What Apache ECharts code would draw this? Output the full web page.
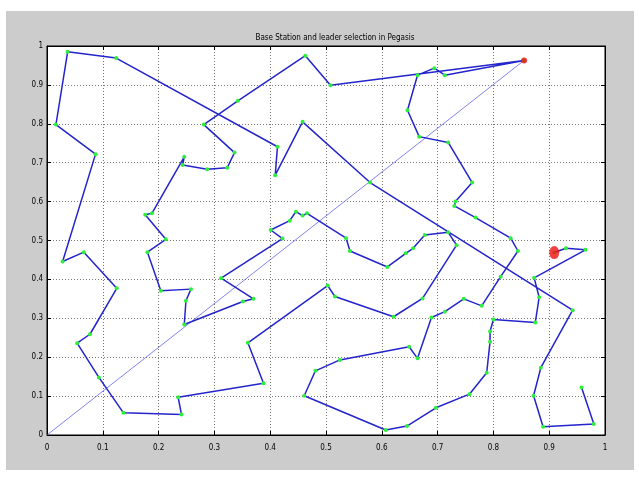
<!DOCTYPE html>
<html>
<head>
<meta charset="utf-8">
<script src="https://cdn.jsdelivr.net/npm/echarts@6/dist/echarts.min.js"></script>
<style>
html,body{margin:0;padding:0;background:#fff;}
#c{width:639px;height:477px;}
</style>
</head>
<body>
<div id="c"></div>
<script>
// Chain of sensor nodes (PEGASIS chain), in drawing order
var chainX = [0.958,0.980,0.889,0.872,0.885,0.942,0.579,0.458,0.409,0.413,
              0.124,0.037,0.016,0.087,0.028,0.066,0.125,0.077,0.054,0.093,
              0.137,0.241,0.235,0.388,0.360,0.503,0.516,0.621,0.673,0.734,
              0.719,0.677,0.656,0.643,0.610,0.543,0.536,0.466,0.458,0.446,
              0.435,0.401,0.422,0.312,0.370,0.351,0.246,0.249,0.258,0.204,
              0.180,0.213,0.176,0.188,0.246,0.243,0.287,0.323,0.336,0.281,
              0.342,0.463,0.508,0.855,0.713,0.694,0.664,0.646,0.667,0.719,
              0.762,0.732,0.730,0.768,0.831,0.844,0.813,0.779,0.747,0.713,
              0.689,0.664,0.649,0.525,0.481,0.461,0.607,0.645,0.697,0.757,
              0.788,0.794,0.794,0.800,0.875,0.882,0.873,0.965,0.930,0.909];
var chainY = [0.122,0.028,0.021,0.101,0.173,0.321,0.649,0.805,0.668,0.741,
              0.969,0.985,0.798,0.722,0.446,0.470,0.377,0.259,0.236,0.148,
              0.057,0.053,0.097,0.133,0.237,0.384,0.356,0.304,0.351,0.488,
              0.521,0.514,0.480,0.467,0.432,0.473,0.506,0.570,0.564,0.574,
              0.551,0.527,0.505,0.403,0.350,0.343,0.284,0.345,0.375,0.371,
              0.470,0.503,0.566,0.570,0.715,0.694,0.683,0.687,0.726,0.798,
              0.859,0.975,0.899,0.963,0.925,0.943,0.925,0.835,0.767,0.752,
              0.649,0.600,0.589,0.559,0.506,0.473,0.407,0.332,0.350,0.317,
              0.302,0.197,0.227,0.193,0.165,0.101,0.013,0.023,0.070,0.105,
              0.160,0.240,0.266,0.297,0.289,0.354,0.404,0.476,0.480,0.469];
// Base station and leader
var baseStation = [0.855, 0.963];
var leader = [0.909, 0.469];
var origin = [0, 0];
// Tick labels
var tickLabels = ['0','0.1','0.2','0.3','0.4','0.5','0.6','0.7','0.8','0.9','1'];
var titleText = 'Base Station and leader selection in Pegasis';

var chainData = chainX.map(function(x, i){ return [x, chainY[i]]; });
var FONT = "'Liberation Sans Narrow','DejaVu Sans Condensed',sans-serif";

function fmt(v){ return tickLabels[Math.round(v*10)]; }
function axisBase(pos, showLabel){
  return {
    type:'value', min:0, max:1, interval:0.1, position:pos,
    axisLine:{show:true, onZero:false, lineStyle:{color:'#000', width:1}},
    axisTick:{show:true, inside:true, length:4, lineStyle:{color:'#000'}},
    axisLabel:{show:showLabel, formatter:fmt, color:'#000', fontSize:8, fontFamily:FONT, margin: pos==='bottom'?9:4},
    splitLine:{show:showLabel, lineStyle:{color:'#777', type:[1,2], width:1}}
  };
}

var chart = echarts.init(document.getElementById('c'), null, {renderer:'canvas'});
chart.setOption({
  backgroundColor:'#fff',
  animation:false,
  title:{text:titleText, left:330, top:29, textAlign:'center',
         textStyle:{fontSize:8, fontWeight:'normal', color:'#000', fontFamily:FONT}},
  graphic:[{type:'rect', z:-10, silent:true, shape:{x:6, y:11, width:628, height:459},
            style:{fill:'#cccccc'}}],
  grid:{left:47, right:34, top:46, bottom:42, show:true, backgroundColor:'#fff', borderColor:'#000', borderWidth:1},
  xAxis:[axisBase('bottom', true), axisBase('top', false)],
  yAxis:[axisBase('left', true), axisBase('right', false)],
  series:[
    {type:'line', data:[origin, baseStation], symbol:'none', z:2,
     lineStyle:{color:'rgba(90,90,235,0.75)', width:1}},
    {type:'line', data:chainData, symbol:'circle', symbolSize:4, z:3,
     itemStyle:{color:'#2bef3a', borderWidth:0},
     lineStyle:{color:'#2424cc', width:1.5}},
    {type:'scatter', data:[baseStation], symbol:'circle', symbolSize:6, z:5,
     itemStyle:{color:'#f01010'}},
    {type:'scatter', data:[leader], symbol:'circle', symbolSize:[10,13], z:5,
     itemStyle:{color:'#f01010'}}
  ]
});
</script>
</body>
</html>
